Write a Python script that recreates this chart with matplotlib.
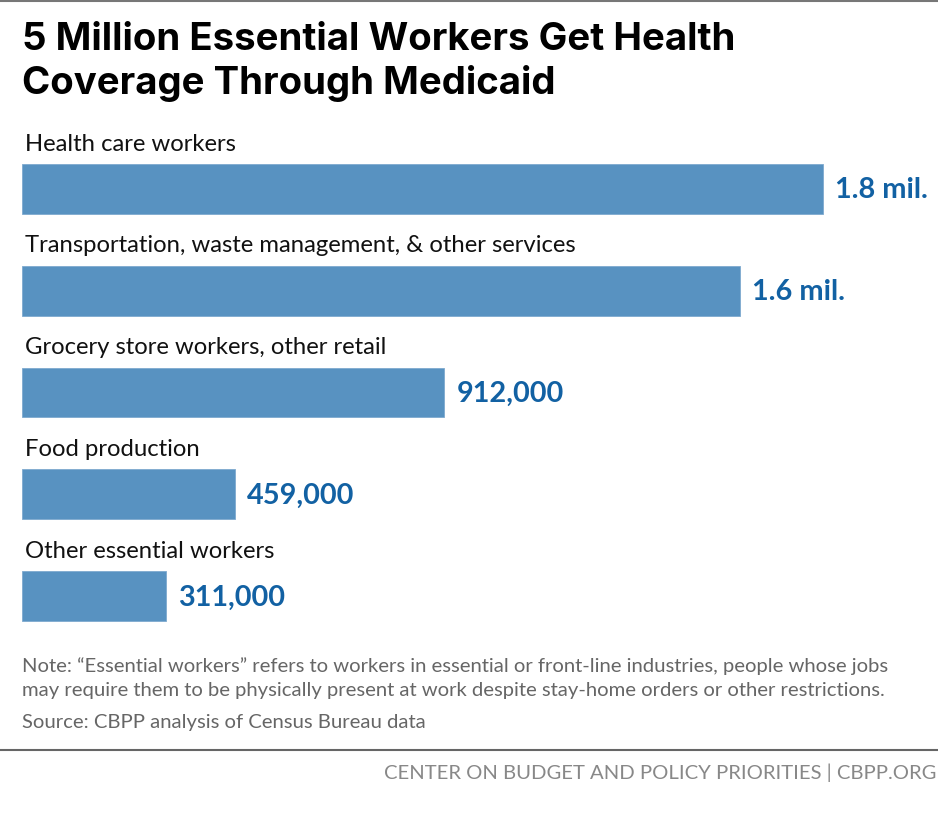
import matplotlib
matplotlib.use("Agg")
import matplotlib.pyplot as plt
from matplotlib.lines import Line2D

# data
categories = ["Health care workers",
              "Transportation, waste management, & other services",
              "Grocery store workers, other retail",
              "Food production",
              "Other essential workers"]
workers = [1730000, 1550000, 912000, 459000, 311000]
value_labels = ["1.8 mil.", "1.6 mil.", "912,000", "459,000", "311,000"]

W, H = 938, 822
fig = plt.figure(figsize=(W / 100, H / 100), dpi=100)
fig.patch.set_facecolor("white")

def fx(px):
    return px / W

def fy(py):
    return 1 - py / H

# bar area
ax = fig.add_axes([fx(22), fy(647), fx(900), (647 - 138) / H])
ax.barh(range(len(workers)), workers, height=0.49, color="#5892c1",
        edgecolor="#7ea9cf", linewidth=0.6)
ax.set_xlim(0, 900 / 463e-6)
ax.set_ylim(len(workers) - 0.5, -0.5)
ax.axis("off")

for i, (cat, v, lab) in enumerate(zip(categories, workers, value_labels)):
    ax.annotate(cat, (0, i - 0.44), xytext=(2, 0), textcoords="offset points",
                ha="left", va="center", fontsize=17.2, family="Lato",
                color="#111111")
    ax.annotate(lab, (v, i), xytext=(9, -1), textcoords="offset points",
                ha="left", va="center", fontsize=20.8, family="Lato",
                fontweight="bold", color="#1261a3")

# title
fig.text(fx(22), fy(40), "5 Million Essential Workers Get Health",
         fontsize=27.6, fontweight="bold", family="Inter", va="center",
         color="black")
fig.text(fx(22), fy(83), "Coverage Through Medicaid",
         fontsize=27.6, fontweight="bold", family="Inter", va="center",
         color="black")

# notes
note_kw = dict(fontsize=14.6, family="Lato", color="#666666", va="center")
fig.text(fx(22), fy(666), "Note: \u201cEssential workers\u201d refers to workers in essential or front-line industries, people whose jobs", **note_kw)
fig.text(fx(22), fy(690), "may require them to be physically present at work despite stay-home orders or other restrictions.", **note_kw)
fig.text(fx(22), fy(722), "Source: CBPP analysis of Census Bureau data", **note_kw)

# rules
fig.add_artist(Line2D([0, 1], [fy(1), fy(1)], color="#777777", linewidth=1.5))
fig.add_artist(Line2D([0, 1], [fy(750), fy(750)], color="#666666", linewidth=1.5))

fig.text(fx(936), fy(773), "CENTER ON BUDGET AND POLICY PRIORITIES | CBPP.ORG",
         fontsize=14.6, family="Lato", color="#888888", ha="right", va="center")

fig.savefig("out.png", dpi=100, facecolor="white")
